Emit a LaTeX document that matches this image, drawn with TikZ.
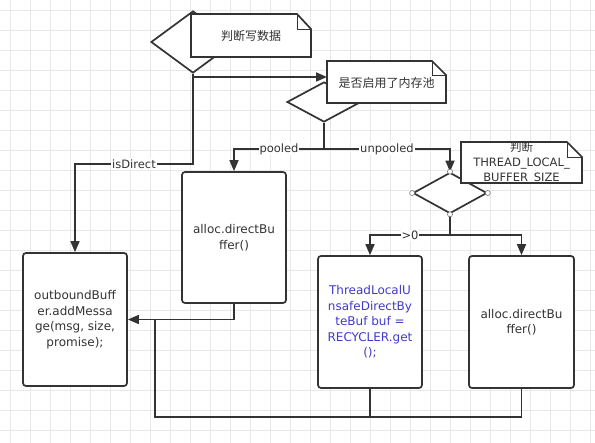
\documentclass[tikz,border=0pt]{standalone}
\usepackage{fontspec}
\setmainfont{DejaVu Sans}
\newfontfamily\cjk{Noto Sans CJK SC}
\usetikzlibrary{arrows.meta,shapes.geometric}
\definecolor{inkgrey}{RGB}{51,51,51}
\definecolor{codeblue}{RGB}{66,58,200}
\definecolor{gridgrey}{RGB}{232,232,232}
\tikzset{
	flowline/.style={draw=inkgrey,line width=1.7pt},
	arrowline/.style={flowline,-{Triangle[length=11pt,width=9pt]}},
	decision/.style={diamond,draw=inkgrey,line width=1.7pt,fill=white,inner sep=0pt},
	procbox/.style={rectangle,rounded corners=3pt,draw=inkgrey,line width=1.7pt,fill=white,
		minimum width=104pt,align=center,text=inkgrey,font=\fontsize{12}{15.5}\selectfont},
	edgelabel/.style={fill=white,inner sep=1pt,text=inkgrey,font=\fontsize{11.5}{13}\selectfont},
	notetext/.style={align=center,inner sep=0pt,text=inkgrey,font=\fontsize{11.5}{15}\selectfont},
	handle/.style={draw=inkgrey!70,fill=white,line width=0.6pt}
}
\begin{document}
\begin{tikzpicture}[x=1pt,y=-1pt]
	\useasboundingbox (0,0) rectangle (595,443);
	\fill[white] (0,0) rectangle (595,443);
	% background grid
	\foreach \gx in {10,30,...,590} \draw[gridgrey,line width=0.5pt] (\gx,0) -- (\gx,443);
	\foreach \gy in {10,30,...,440} \draw[gridgrey,line width=0.5pt] (0,\gy) -- (595,\gy);
	% decisions
	\node[decision,minimum width=84pt,minimum height=62pt] (d1) at (193,42) {};
	\node[decision,minimum width=74pt,minimum height=40pt] (d2) at (324,102) {};
	\node[decision,minimum width=74pt,minimum height=41pt] (d3) at (450,193) {};
	% process boxes
	\node[procbox,minimum height=133pt] (outbox) at (75,319.5) {outboundBuff\\er.addMessa\\ge(msg, size,\\promise);};
	\node[procbox,minimum height=131pt] (alloc1) at (234,237.5) {alloc.directBu\\ffer()};
	\node[procbox,minimum height=132pt,text=codeblue] (tlbuf) at (370,322) {ThreadLocalU\\nsafeDirectBy\\teBuf buf =\\RECYCLER.get\\();};
	\node[procbox,minimum height=132pt,minimum width=105pt] (alloc2) at (521.5,322) {alloc.directBu\\ffer()};
	% connectors
	\coordinate (n2in) at (327,77);
	\draw[arrowline] (d1.south) |- (n2in);
	\draw[arrowline] (d1.south) -- ++(0,90) -| node[edgelabel,pos=0.25]{isDirect} (outbox.north);
	\draw[arrowline] (d2.south) -- ++(0,26) -| node[edgelabel,pos=0.25]{pooled} (alloc1.north);
	\draw[arrowline] (d2.south) -- ++(0,26) -| node[edgelabel,pos=0.25]{unpooled} (d3.north);
	\draw[arrowline] (d3.south) -- ++(0,21) -| node[edgelabel,pos=0.25]{>0} (tlbuf.north);
	\draw[arrowline] (d3.south) -- ++(0,21) -| (alloc2.north);
	\draw[arrowline] (alloc1.south) |- (outbox.east);
	\coordinate (retcorner) at (155,417);
	\draw[flowline] (alloc2.south) |- (retcorner) -- (retcorner |- outbox.east);
	\draw[flowline] (tlbuf.south) -- (tlbuf.south |- retcorner);
	% notes
	\draw[flowline,fill=white] (191,14) -- (297,14) -- (311,29) -- (311,57) -- (191,57) -- cycle;
	\draw[flowline,line width=0.9pt] (297,14) -- (297,29) -- (311,29);
	\node[notetext,font=\cjk\fontsize{12}{15}\selectfont] (n1) at (251,36) {判断写数据};
	\draw[flowline,fill=white] (327,61) -- (432,61) -- (446,75) -- (446,103) -- (327,103) -- cycle;
	\draw[flowline,line width=0.9pt] (432,61) -- (432,75) -- (446,75);
	\node[notetext,font=\cjk\fontsize{12}{15}\selectfont] (n2) at (386.5,83) {是否启用了内存池};
	\draw[flowline,fill=white] (461,142) -- (567,142) -- (582,157) -- (582,183) -- (461,183) -- cycle;
	\draw[flowline,line width=0.9pt] (567,142) -- (567,157) -- (582,157);
	\node[notetext] (n3) at (521.5,163) {{\cjk 判断}\\THREAD\_LOCAL\_\\BUFFER\_SIZE};
	% selection handles
	\foreach \a in {north,south,east,west} \draw[handle] (d3.\a) circle[radius=2.5pt];
\end{tikzpicture}
\end{document}
